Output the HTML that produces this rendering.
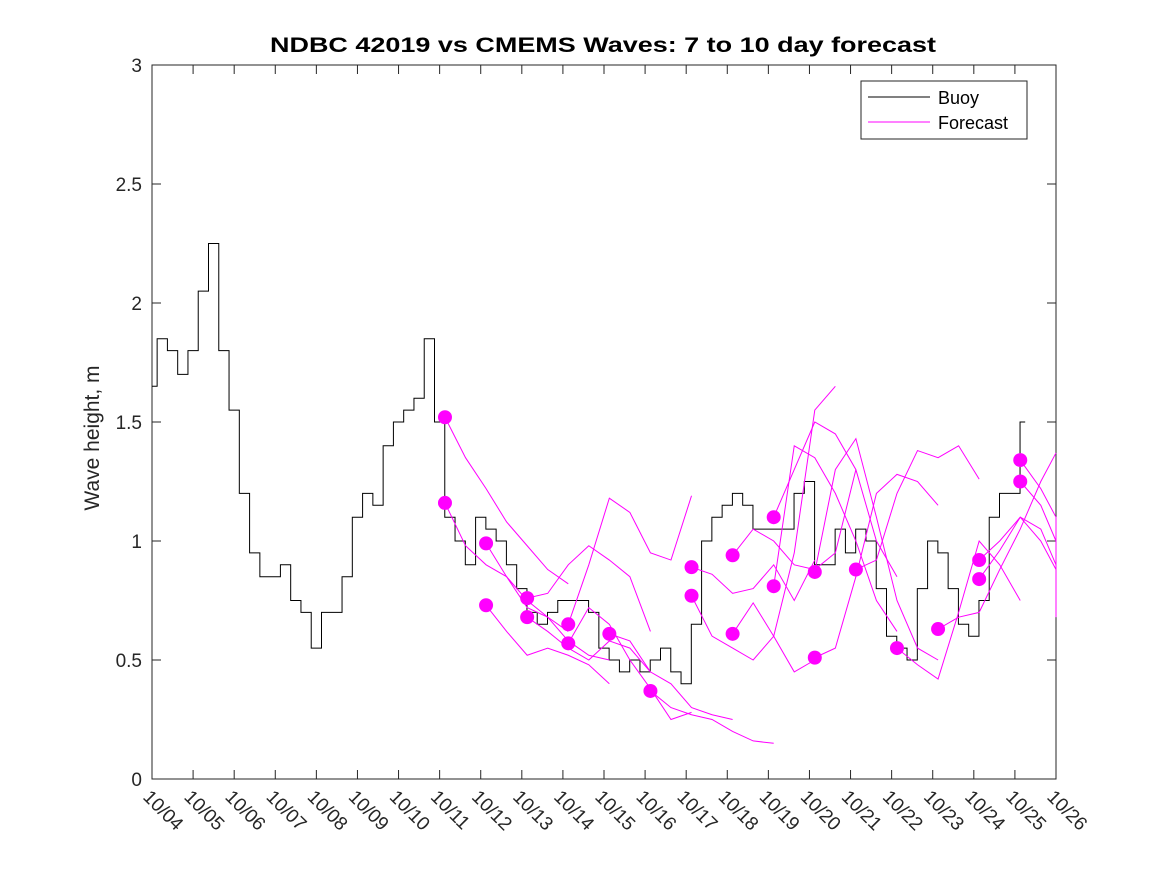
<!DOCTYPE html>
<html><head><meta charset="utf-8"><style>
body{margin:0;background:#fff;}
svg{display:block;font-family:"Liberation Sans",sans-serif;}
</style></head><body>
<svg id="chart" width="1167" height="875" xmlns="http://www.w3.org/2000/svg">
<rect width="1167" height="875" fill="#fff"/>
<text x="603" y="52" text-anchor="middle" font-size="21" font-weight="bold" fill="#000" textLength="666" lengthAdjust="spacingAndGlyphs">NDBC 42019 vs CMEMS Waves: 7 to 10 day forecast</text>
<text transform="translate(99,438) rotate(-90)" text-anchor="middle" font-size="21" fill="#262626">Wave height, m</text>
<g id="plot"></g>
<g>
<rect x="861" y="81" width="166" height="58" fill="#fff" stroke="#262626" stroke-width="1"/>
<line x1="868" y1="97" x2="930" y2="97" stroke="#000"/>
<text x="938" y="104" font-size="18" fill="#000">Buoy</text>
<line x1="868" y1="122" x2="930" y2="122" stroke="#ff00ff"/>
<text x="938" y="129" font-size="18" fill="#000">Forecast</text>
</g>
</svg>
<script>
const xTickLabels=["10/04","10/05","10/06","10/07","10/08","10/09","10/10","10/11","10/12","10/13","10/14","10/15","10/16","10/17","10/18","10/19","10/20","10/21","10/22","10/23","10/24","10/25","10/26"];
const yTicks=[0,0.5,1,1.5,2,2.5,3];
const buoyStart=0, buoyStep=0.25;
const buoyValues=[1.65,1.85,1.8,1.7,1.8,2.05,2.25,1.8,1.55,1.2,0.95,0.85,0.85,0.9,0.75,0.7,0.55,0.7,0.7,0.85,1.1,1.2,1.15,1.4,1.5,1.55,1.6,1.85,1.5,1.1,1.0,0.9,1.1,1.05,1.0,0.9,0.8,0.7,0.65,0.7,0.75,0.75,0.75,0.7,0.55,0.5,0.45,0.5,0.45,0.5,0.55,0.45,0.4,0.65,1.0,1.1,1.15,1.2,1.15,1.05,1.05,1.05,1.05,1.2,1.25,0.9,0.9,1.05,0.95,1.05,1.0,0.8,0.6,0.55,0.5,0.8,1.0,0.95,0.8,0.65,0.6,0.75,1.1,1.2,1.2,1.5];
const fcStarts=[7.13,7.13,8.13,8.13,9.13,9.13,10.13,10.13,11.13,12.13,13.13,13.13,14.13,14.13,15.13,15.13,16.13,16.13,17.13,18.13,19.13,20.13,20.13,21.13,21.13];
const fcStep=0.5;
const fcValues=[
[1.52,1.35,1.22,1.08,0.98,0.88,0.82],
[1.16,0.98,0.9,0.85,0.75,0.68,0.62],
[0.99,0.85,0.72,0.68,0.58,0.52,0.5],
[0.73,0.62,0.52,0.55,0.52,0.48,0.4],
[0.76,0.78,0.9,0.98,0.92,0.85,0.62],
[0.68,0.62,0.55,0.5,0.58,0.55,0.45],
[0.65,0.9,1.18,1.12,0.95,0.92,1.19],
[0.57,0.72,0.65,0.5,0.38,0.25,0.28],
[0.61,0.58,0.45,0.4,0.3,0.27,0.25],
[0.37,0.3,0.27,0.25,0.2,0.16,0.15],
[0.89,0.86,0.78,0.8,0.9,0.75,0.92],
[0.77,0.6,0.55,0.5,0.6,0.45,0.5],
[0.94,1.05,1.0,0.9,0.88,0.95,1.3],
[0.61,0.74,0.6,0.95,1.55,1.65],
[1.1,1.3,1.5,1.45,1.3,1.0,0.85],
[0.81,1.4,1.35,1.2,1.0,0.75,0.62],
[0.87,1.3,1.43,1.1,0.75,0.55,0.5],
[0.51,0.55,0.85,1.2,1.28,1.25,1.15],
[0.88,0.92,1.2,1.38,1.35,1.4,1.26],
[0.55,0.48,0.42,0.7,1.0,0.9,0.75],
[0.63,0.68,0.7,0.88,1.05,1.25,1.37],
[0.92,1.0,1.1,1.05,0.9,0.8,0.75],
[0.84,0.96,1.1,1.0,0.88,0.75,0.68],
[1.34,1.22,1.1,1.0,0.94],
[1.25,1.15,1.0,0.85,0.68]
];
const X0=152,X1=1056,Y0=779,Y1=65;
function xs(d){return X0+(X1-X0)*d/22;}
function ys(v){return Y0-(Y0-Y1)*v/3;}
const NS="http://www.w3.org/2000/svg";
const g=document.getElementById('plot');
function mk(t,a){const e=document.createElementNS(NS,t);for(const k in a)e.setAttribute(k,a[k]);g.appendChild(e);return e;}
const box=mk('rect',{x:X0,y:Y1,width:X1-X0,height:Y0-Y1,fill:'none',stroke:'#262626','stroke-width':1});


yTicks.forEach(v=>{
 const y=ys(v);
 const t=mk('path',{d:`M${X0} ${y}h9M${X1} ${y}h-9`,stroke:'#262626'});
 
 
 const l=mk('text',{x:X0-10,y:y+7,'text-anchor':'end','font-size':19,fill:'#262626'});
 l.textContent=String(v);
 
 
});
xTickLabels.forEach((s,i)=>{
 const x=xs(i);
 const t=mk('path',{d:`M${x} ${Y0}v-9M${x} ${Y1}v9`,stroke:'#262626'});
 
 
 const l=mk('text',{transform:`translate(${x-10},${Y0+19}) rotate(45)`,'font-size':19,fill:'#262626'});
 l.textContent=s;
 
 
});
let d='';
const n=buoyValues.length;
buoyValues.forEach((v,i)=>{
 const xa=xs(Math.max(0,buoyStart+(i-0.5)*buoyStep)),xb=xs(buoyStart+(i===n-1?i:i+0.5)*buoyStep),y=ys(v);
 if(i===0)d+=`M${xa} ${y}H${xb}`;else d+=`V${y}H${xb}`;
});
const bl=mk('path',{d:d,fill:'none',stroke:'#000','stroke-width':1});


fcValues.forEach((arr,k)=>{
 const pts=arr.map((v,i)=>[Math.min(xs(fcStarts[k]+i*fcStep),X1),ys(v)]);
 const p=mk('polyline',{points:pts.map(p=>p.join(',')).join(' '),fill:'none',stroke:'#ff00ff','stroke-width':1});
 
 
 const c=mk('circle',{cx:pts[0][0],cy:pts[0][1],r:7,fill:'#ff00ff'});
 
 
});
</script>
</body></html>
